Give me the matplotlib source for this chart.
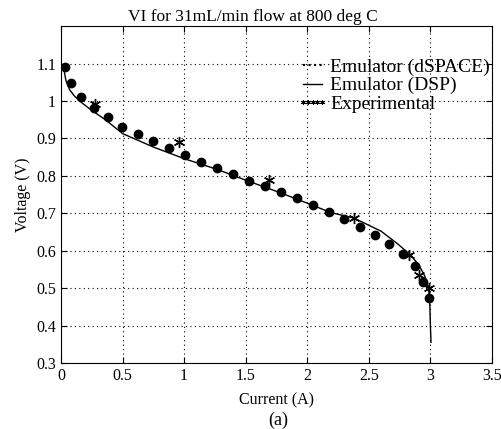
import matplotlib
matplotlib.use("Agg")
import matplotlib.pyplot as plt
from matplotlib.lines import Line2D

plt.rcParams['font.family'] = ['Liberation Serif', 'DejaVu Serif']
plt.rcParams['mathtext.fontset'] = 'stix'

# Emulator (dSPACE) - dots
dspace_i = [0.029, 0.078, 0.16, 0.266, 0.383, 0.497, 0.622, 0.75, 0.878, 1.005,
            1.133, 1.267, 1.394, 1.525, 1.655, 1.789, 1.919, 2.05, 2.177, 2.30,
            2.427, 2.55, 2.667, 2.78, 2.876, 2.94, 2.985]
dspace_v = [1.091, 1.048, 1.011, 0.982, 0.956, 0.930, 0.911, 0.893, 0.874, 0.855,
            0.838, 0.822, 0.804, 0.787, 0.772, 0.756, 0.740, 0.723, 0.703, 0.684,
            0.663, 0.643, 0.618, 0.591, 0.558, 0.517, 0.474]

# Emulator (DSP) - solid line
dsp_i = [0.0, 0.02, 0.04, 0.07, 0.11, 0.17, 0.25, 0.36, 0.5, 0.75, 1.0, 1.27,
         1.52, 1.78, 2.0, 2.19, 2.38, 2.6, 2.735, 2.843, 2.91, 2.953, 2.985,
         2.995, 3.0, 3.005]
dsp_v = [1.10, 1.09, 1.055, 1.03, 1.013, 0.995, 0.975, 0.95, 0.913, 0.877, 0.846,
         0.817, 0.786, 0.755, 0.727, 0.702, 0.687, 0.652, 0.618, 0.587, 0.56,
         0.533, 0.502, 0.46, 0.40, 0.355]

# Experimental - stars
exp_i = [0.274, 0.962, 1.69, 2.38, 2.825, 2.91, 2.99]
exp_v = [0.993, 0.890, 0.790, 0.688, 0.589, 0.536, 0.501]

fig = plt.figure(figsize=(5.02, 4.29), dpi=100)
ax = fig.add_axes([0.1215, 0.154, 0.8585, 0.785])

ax.plot(dsp_i, dsp_v, color="black", lw=1.0)
ax.plot(dspace_i, dspace_v, "o", color="black", ms=6, ls="none")
ax.plot(exp_i, exp_v, marker=(6, 2, 0), color="black", ms=8, mew=1.0, ls="none")

ax.set_xlim(0, 3.5)
ax.set_ylim(0.3, 1.2)
ax.set_xticks([0, 0.5, 1, 1.5, 2, 2.5, 3, 3.5])
ax.set_xticklabels(["0", "0.5", "1", "1.5", "2", "2.5", "3", "3.5"])
ax.set_yticks([0.3, 0.4, 0.5, 0.6, 0.7, 0.8, 0.9, 1.0, 1.1])
ax.set_yticklabels(["0.3", "0.4", "0.5", "0.6", "0.7", "0.8", "0.9", "1", "1.1"])
ax.tick_params(direction="in", top=True, right=True, labelsize=11.5, length=4)
ax.grid(True, color="black", ls=(0, (1, 3)), lw=0.8)

ax.set_title("VI for 31mL/min flow at 800 deg C", fontsize=12.5, pad=4, x=0.445)
ax.set_xlabel("Current (A)", fontsize=11.5, labelpad=6)
ax.set_ylabel("Voltage (V)", fontsize=11.5, labelpad=4)
fig.text(0.5 * (0.1215 + 0.98) + 0.003, 0.01, "(a)", ha="center", fontsize=13)

handles = [
    Line2D([], [], color="black", ls=":", lw=1.5),
    Line2D([], [], color="black", ls="-", lw=1.0),
    Line2D([], [], color="black", marker=(6, 2, 0), ms=3.5, mew=0.7, ls="none"),
]
ax.legend(handles, ["Emulator (dSPACE)", "Emulator (DSP)", "Experimental"],
          loc="upper right", frameon=False, fontsize=14, numpoints=5,
          handlelength=1.6, handletextpad=0.1, labelspacing=0.05,
          borderpad=0, borderaxespad=0, bbox_to_anchor=(0.995, 0.905))

fig.savefig("out.png", dpi=100)
